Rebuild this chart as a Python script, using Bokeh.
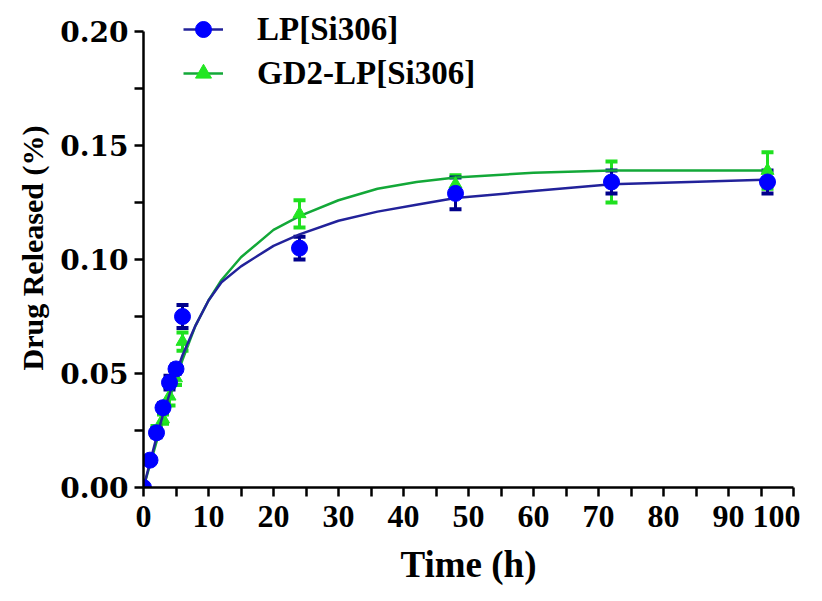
from bokeh.plotting import figure
from bokeh.models import (ColumnDataSource, Whisker, TeeHead, Legend, LegendItem,
                          Range1d, FixedTicker)
from bokeh.embed import file_html
from bokeh.resources import INLINE

# ---- data ----
time_h = [0, 1, 2, 3, 4, 5, 6, 24, 48, 72, 96]

lp_mean = [0.0, 0.012, 0.024, 0.035, 0.046, 0.052, 0.075, 0.105, 0.129, 0.134, 0.134]
lp_err = [0.001, 0.001, 0.002, 0.002, 0.003, 0.002, 0.005, 0.005, 0.007, 0.005, 0.005]

gd2_mean = [0.0, 0.012, 0.025, 0.030, 0.040, 0.048, 0.064, 0.120, 0.133, 0.134, 0.139]
gd2_err = [0.001, 0.001, 0.002, 0.002, 0.004, 0.003, 0.004, 0.006, 0.004, 0.009, 0.008]

# fitted curves
fit_t = [0, 1, 2, 3, 4, 5, 6, 8, 10, 12, 15, 20, 24, 30, 36, 42, 48, 60, 72, 84, 96]
lp_fit = [0.0, 0.011, 0.022, 0.032, 0.041, 0.050, 0.058, 0.071, 0.082, 0.090, 0.097,
          0.106, 0.111, 0.117, 0.121, 0.124, 0.127, 0.130, 0.133, 0.134, 0.135]
gd2_fit = [0.0, 0.010, 0.020, 0.030, 0.039, 0.048, 0.056, 0.071, 0.082, 0.091, 0.101,
           0.113, 0.119, 0.126, 0.131, 0.134, 0.136, 0.138, 0.139, 0.139, 0.139]

series_labels = ["LP[Si306]", "GD2-LP[Si306]"]
x_ticks = [0, 10, 20, 30, 40, 50, 60, 70, 80, 90, 100]
y_ticks = [0.0, 0.05, 0.10, 0.15, 0.20]

FONT = "Liberation Serif"
Y_TICK_FONT = "DejaVu Serif"
BLUE_M = "#0000ff"
BLUE_L = "#22229a"
BLUE_E = "#00008b"
GREEN_M = "#22e622"
GREEN_L = "#13a838"
GREEN_E = "#1fe01f"

p = figure(width=800, height=600, output_backend="svg", toolbar_location=None,
           x_range=Range1d(0, 100), y_range=Range1d(0, 0.21009),
           min_border_left=143, min_border_right=7, min_border_top=8,
           min_border_bottom=113)
p.outline_line_color = None
p.grid.visible = False
p.background_fill_color = "white"

src_lp = ColumnDataSource(dict(t=time_h, y=lp_mean,
                               lo=[m - e for m, e in zip(lp_mean, lp_err)],
                               hi=[m + e for m, e in zip(lp_mean, lp_err)]))
src_gd = ColumnDataSource(dict(t=time_h, y=gd2_mean,
                               lo=[m - e for m, e in zip(gd2_mean, gd2_err)],
                               hi=[m + e for m, e in zip(gd2_mean, gd2_err)]))

# green series
gl = p.line(fit_t, gd2_fit, line_color=GREEN_L, line_width=2.5)
wg = Whisker(source=src_gd, base="t", lower="lo", upper="hi", line_color=GREEN_E,
             line_width=3,
             upper_head=TeeHead(size=12, line_color=GREEN_E, line_width=4),
             lower_head=TeeHead(size=12, line_color=GREEN_E, line_width=4))
p.add_layout(wg)
gm = p.scatter("t", "y", source=src_gd, marker="triangle", size=13,
               fill_color=GREEN_M, line_color=GREEN_M)

# blue series
bl = p.line(fit_t, lp_fit, line_color=BLUE_L, line_width=2.5)
wb = Whisker(source=src_lp, base="t", lower="lo", upper="hi", line_color=BLUE_E,
             line_width=3,
             upper_head=TeeHead(size=12, line_color=BLUE_E, line_width=4),
             lower_head=TeeHead(size=12, line_color=BLUE_E, line_width=4))
p.add_layout(wb)
bm = p.scatter("t", "y", source=src_lp, marker="circle", size=16,
               fill_color=BLUE_M, line_color=BLUE_M)

xa = p.xaxis[0]
ya = p.yaxis[0]
for ax in (xa, ya):
    ax.axis_line_width = 2.5
    ax.axis_line_color = "black"
    ax.major_tick_line_width = 2.5
    ax.minor_tick_line_width = 2.5
    ax.major_tick_out = 9
    ax.major_tick_in = 0
    ax.minor_tick_out = 9
    ax.minor_tick_in = 0
    ax.major_label_text_font_style = "bold"
    ax.major_label_text_color = "black"
    ax.axis_label_text_font = FONT
    ax.axis_label_text_font_style = "bold"
    ax.axis_label_text_color = "black"

xa.major_label_text_font = FONT
xa.major_label_text_font_size = "32px"
ya.major_label_text_font = Y_TICK_FONT
ya.major_label_text_font_size = "28px"
xa.axis_label_text_font_size = "37px"
ya.axis_label_text_font_size = "30px"
ya.bounds = (0, 0.20)
xa.ticker = FixedTicker(ticks=x_ticks, minor_ticks=[x + 5 for x in x_ticks[:-1]])
ya.ticker = FixedTicker(ticks=y_ticks, minor_ticks=[0.025, 0.075, 0.125, 0.175])
ya.major_label_overrides = {v: f"{v:.2f}" for v in y_ticks}
xa.axis_label = "Time (h)"
ya.axis_label = "Drug Released (%)"
xa.major_label_standoff = 9
ya.major_label_standoff = 6
xa.axis_label_standoff = 14
ya.axis_label_standoff = 8

legend = Legend(items=[LegendItem(label=series_labels[0], renderers=[bl, bm]),
                       LegendItem(label=series_labels[1], renderers=[gl, gm])],
                location=(40, 394), orientation="vertical",
                glyph_width=40, glyph_height=40, label_height=40,
                label_standoff=34, spacing=4, padding=0, margin=0,
                border_line_color=None, background_fill_alpha=0,
                label_text_font=FONT, label_text_font_style="bold",
                label_text_font_size="33px", label_text_color="black")
p.add_layout(legend, "center")

open("out.html", "w").write(file_html(p, INLINE))
